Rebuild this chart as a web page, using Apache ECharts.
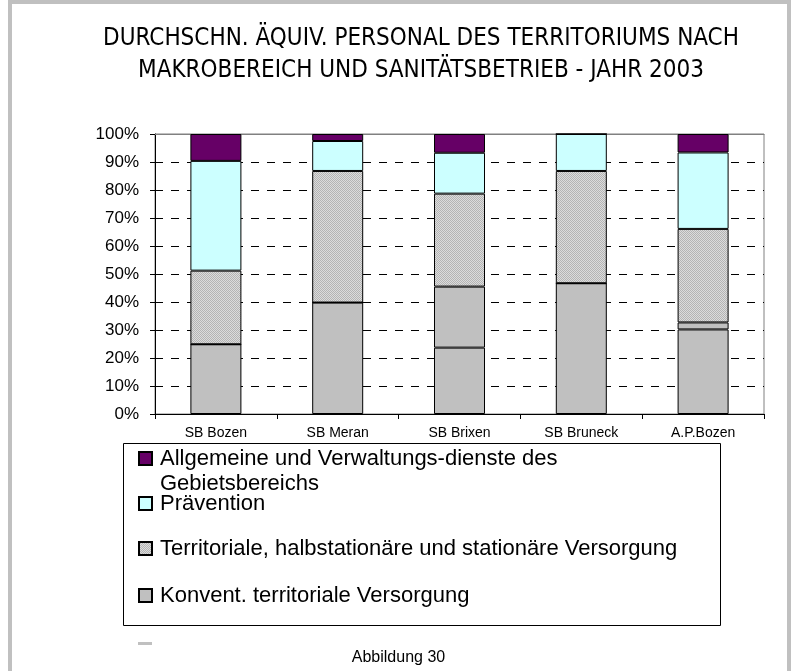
<!DOCTYPE html>
<html>
<head>
<meta charset="utf-8">
<script src="https://cdn.jsdelivr.net/npm/echarts@6/dist/echarts.min.js"></script>
<style>
  html, body { margin: 0; padding: 0; background: #fff; }
  #chart { width: 797px; height: 671px; }
</style>
</head>
<body>
<div id="chart"></div>
<script>
// categories and series values (percent of total)
const categories = ['SB Bozen', 'SB Meran', 'SB Brixen', 'SB Bruneck', 'A.P.Bozen'];
const unnamed = [24.9, 39.8, 23.7, 46.7, 30.2];
const konvent = [0, 0, 21.8, 0, 2.5];
const territoriale = [26.3, 47.0, 33.2, 40.1, 33.4];
const praevention = [39.2, 10.7, 14.6, 13.2, 27.3];
const allgemeine = [9.6, 2.5, 6.7, 0, 6.6];

const nameAllg = 'Allgemeine und Verwaltungs-dienste des Gebietsbereichs';
const namePraev = 'Prävention';
const nameTerr = 'Territoriale, halbstationäre und stationäre Versorgung';
const nameKonv = 'Konvent. territoriale Versorgung';

// small checker pattern for the dotted grey fill
const pat = document.createElement('canvas');
pat.width = 2; pat.height = 2;
const pctx = pat.getContext('2d');
pctx.fillStyle = '#dcdcdc'; pctx.fillRect(0, 0, 2, 2);
pctx.fillStyle = '#b4b4b4'; pctx.fillRect(0, 0, 1, 1); pctx.fillRect(1, 1, 1, 1);

const font = 'Liberation Sans, Arial, sans-serif';

function bar(name, data, color) {
  return {
    name: name, type: 'bar', stack: 'total', data: data, barWidth: 51,
    itemStyle: { color: color, borderColor: '#000', borderWidth: 1 }
  };
}

function legendAt(name, top, extra) {
  return Object.assign({
    data: [name], left: 138, top: top, orient: 'vertical', padding: 0,
    icon: 'rect', itemWidth: 13, itemHeight: 13, selectedMode: false,
    textStyle: { fontFamily: font, fontSize: 22, color: '#000', lineHeight: 25, padding: [0, 0, 0, 3] }
  }, extra || {});
}

const chart = echarts.init(document.getElementById('chart'));
chart.setOption({
  animation: false,
  title: [{
    text: 'DURCHSCHN. ÄQUIV. PERSONAL DES TERRITORIUMS NACH\nMAKROBEREICH UND SANITÄTSBETRIEB - JAHR 2003',
    left: 416, top: 18, textAlign: 'center',
    textStyle: { fontFamily: 'Liberation Sans Narrow, DejaVu Sans Condensed, sans-serif', fontSize: 24, fontWeight: 'normal', color: '#000', lineHeight: 32, align: 'center' }
  }, {
    text: 'Abbildung 30', left: 'center', top: 645,
    textStyle: { fontFamily: font, fontSize: 16, fontWeight: 'normal', color: '#000' }
  }],
  grid: { left: 155, right: 33, top: 134, bottom: 257, show: true, borderColor: '#808080', borderWidth: 1 },
  xAxis: [{
    type: 'category', data: categories,
    axisLine: { lineStyle: { color: '#000', width: 1 } },
    axisTick: { show: true, length: 5, lineStyle: { color: '#000' } },
    axisLabel: { fontFamily: font, fontSize: 14, color: '#000', margin: 12 }
  }, {
    type: 'category', data: categories, position: 'top',
    axisLine: { lineStyle: { color: '#808080', width: 1 } },
    axisTick: { show: false }, axisLabel: { show: false }
  }],
  yAxis: {
    type: 'value', min: 0, max: 100, interval: 10,
    axisLine: { show: true, lineStyle: { color: '#000' } },
    axisTick: { show: true, length: 5, lineStyle: { color: '#000' } },
    axisLabel: { formatter: '{value}%', fontFamily: font, fontSize: 17, color: '#000', margin: 16 },
    splitLine: { lineStyle: { color: '#000', type: [8, 8], width: 1 } }
  },
  legend: [
    legendAt(nameAllg, 421, {
      formatter: () => '\nAllgemeine und Verwaltungs-dienste des\nGebietsbereichs'
    }),
    legendAt(namePraev, 491),
    legendAt(nameTerr, 536),
    legendAt(nameKonv, 583)
  ],
  graphic: [
    { type: 'rect', shape: { x: 10, y: 2, width: 779, height: 720 }, style: { fill: 'none', stroke: '#c0c0c0', lineWidth: 4 }, silent: true },
    { type: 'rect', shape: { x: 123.5, y: 443.5, width: 597, height: 182 }, style: { fill: 'none', stroke: '#000', lineWidth: 1 }, silent: true },
    { type: 'rect', shape: { x: 138, y: 642, width: 14, height: 3 }, style: { fill: '#c0c0c0' }, silent: true }
  ],
  series: [
    bar(' ', unnamed, '#c0c0c0'),
    bar(nameKonv, konvent, '#c0c0c0'),
    bar(nameTerr, territoriale, { image: pat, repeat: 'repeat' }),
    bar(namePraev, praevention, '#ccffff'),
    bar(nameAllg, allgemeine, '#660066')
  ]
});
</script>
</body>
</html>
